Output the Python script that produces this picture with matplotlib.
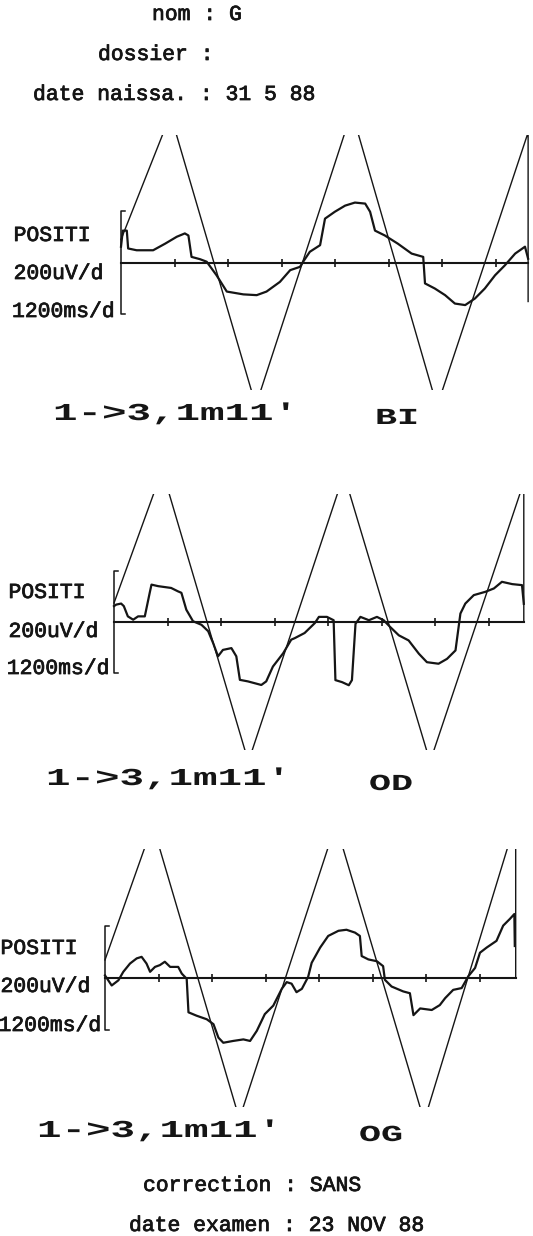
import matplotlib
matplotlib.use("Agg")
import matplotlib.pyplot as plt
import matplotlib.patheffects as pe
from matplotlib.patheffects import AbstractPathEffect
from matplotlib.transforms import Affine2D

# ---------------- data (time in s, potential in uV) ----------------
TICK_TIMES = [1.2, 2.4, 3.6, 4.8, 6.0, 7.2, 8.4]
SCALE_BRACKET_UV = 200
PANEL_NAMES = ["BI", "OD", "OG"]
END_TIMES = [9.12, 9.18, 9.20]

BI_TIME = [0.00, 0.04, 0.13, 0.16, 0.35, 0.72, 0.99, 1.25, 1.43, 1.51, 1.58, 1.77, 1.92,
           2.14, 2.37, 2.74, 3.04, 3.26, 3.56, 3.79, 4.01, 4.08, 4.23, 4.46, 4.57, 4.79,
           5.02, 5.24, 5.47, 5.58, 5.69, 5.91, 6.20, 6.51, 6.77, 6.81, 7.03, 7.26, 7.48,
           7.71, 7.93, 8.15, 8.38, 8.60, 8.83, 9.05, 9.12]
BI_EOG = [62, 125, 125, 55, 48, 48, 74, 101, 114, 106, 22, 13, 3,
          -50, -114, -125, -128, -114, -76, -30, -17, 3, 42, 68, 172, 199,
          223, 235, 231, 199, 125, 106, 74, 35, 22, -82, -102, -128, -161,
          -167, -141, -102, -50, -11, 35, 62, 15]
BI_STIM_TIME = [0.00, 1.11, 3.02, 5.17, 7.08, 9.12, 9.12]
BI_STIM = [90, 580, -561, 592, -564, 510, -153]

OD_TIME = [0.00, 0.05, 0.16, 0.22, 0.31, 0.43, 0.54, 0.69, 0.80, 0.84,
           0.99, 1.28, 1.43, 1.51, 1.62, 1.77, 1.96, 2.11, 2.22, 2.33,
           2.44, 2.63, 2.74, 2.82, 3.00, 3.30, 3.41, 3.56, 3.79, 3.97,
           4.05, 4.27, 4.50, 4.59, 4.77, 4.92, 4.96, 5.11, 5.26, 5.33,
           5.41, 5.52, 5.71, 5.89, 6.04, 6.19, 6.38, 6.60, 6.83, 7.01,
           7.27, 7.46, 7.65, 7.76, 7.87, 8.06, 8.32, 8.51, 8.69, 8.92,
           9.14, 9.18]
OD_EOG = [62, 68, 72, 62, 22, 9, 22, 22, 114, 146,
          140, 133, 120, 114, 48, 3, -11, -36, -82, -134,
          -109, -102, -134, -226, -232, -246, -232, -174, -122, -69,
          -63, -43, -4, 20, 20, 7, -227, -235, -247, -227,
          -7, 20, 7, 20, 7, -20, -52, -72, -124, -157,
          -163, -144, -111, 33, 72, 105, 118, 131, 157, 148,
          144, 71]
OD_STIM_TIME = [0.00, 1.08, 3.01, 5.15, 7.08, 9.18, 9.18]
OD_STIM = [74, 593, -546, 577, -546, 546, 0]

OG_TIME = [0.00, 0.15, 0.30, 0.41, 0.56, 0.71, 0.82, 0.93, 1.01, 1.12,
           1.23, 1.34, 1.46, 1.64, 1.72, 1.83, 1.87, 2.05, 2.28, 2.43,
           2.54, 2.65, 2.87, 3.10, 3.25, 3.40, 3.58, 3.77, 3.96, 4.07,
           4.18, 4.29, 4.41, 4.55, 4.63, 4.82, 5.00, 5.23, 5.41, 5.60,
           5.71, 5.75, 5.90, 6.09, 6.23, 6.27, 6.42, 6.68, 6.83, 6.91,
           7.06, 7.32, 7.50, 7.62, 7.80, 7.99, 8.14, 8.29, 8.40, 8.55,
           8.77, 8.92, 9.07, 9.17, 9.18]
OG_EOG = [10, -29, -9, 24, 56, 76, 82, 56, 24, 43,
          50, 63, 43, 43, 17, -3, -133, -146, -160, -179,
          -231, -251, -244, -238, -244, -205, -140, -107, -42, -16,
          -22, -55, -42, 4, 59, 118, 163, 183, 187, 176,
          163, 85, 72, 65, 46, -7, -33, -52, -59, -144,
          -118, -124, -105, -78, -46, -39, 7, 39, 98, 118,
          144, 203, 229, 248, 124]
OG_STIM_TIME = [0.00, 1.07, 3.01, 5.17, 7.15, 9.20, 9.20]
OG_STIM = [70, 593, -546, 597, -554, 608, 0]

HEADER_LINES = ["nom : G", "dossier :", "date naissa. : 31 5 88"]
FOOTER_LINES = ["correction : SANS", "date examen : 23 NOV 88"]
SIDE_LABELS = ["POSITI", "200uV/d", "1200ms/d"]
RUN_LABEL = "1->3,1m11'"

# ---------------- layout / style ----------------
W_PX, H_PX = 533, 1236
DPI = 100
INK = "#151515"
MONO = "Liberation Mono"
PX_PER_S = 44.64
XLIM = (-0.15, 9.3)
YLIM = (-500, 500)

# (axes origin x px, clip top px, clip bottom px)
PANEL_GEOM = [(121, 135, 390), (114, 494, 750), (105, 849, 1107)]
SIDE_POS = [[(13.6, 241), (13.6, 279), (12, 317)],
            [(8.5, 598), (8.5, 637), (6.8, 674)],
            [(0.5, 954), (0.5, 992), (-1.5, 1031)]]
RUN_POS = [(53, 420), (46, 785), (37, 1137)]
NAME_POS = [(375, 424), (369, 790), (359, 1141)]
HEADER_POS = [(152, 20), (98, 60), (33, 100)]
FOOTER_POS = [(143, 1191), (129, 1231)]


class HStretch(AbstractPathEffect):
    """Draw text glyphs stretched horizontally (wide plotter lettering)."""

    def __init__(self, sx, lw=0.0):
        super().__init__()
        self._sx = sx
        self._lw = lw

    def draw_path(self, renderer, gc, tpath, affine, rgbFace=None):
        gc0 = renderer.new_gc()
        gc0.copy_properties(gc)
        if self._lw > 0 and rgbFace is not None:
            gc0.set_linewidth(self._lw)
            gc0.set_foreground(rgbFace)
            gc0.set_joinstyle("round")
        renderer.draw_path(gc0, tpath, Affine2D().scale(self._sx, 1.0) + affine, rgbFace)
        gc0.restore()


TYPE_FX = [pe.withStroke(linewidth=0.55, foreground=INK)]

fig = plt.figure(figsize=(W_PX / DPI, H_PX / DPI), dpi=DPI)
fig.patch.set_facecolor("white")


def ftext(x, y, s, **kw):
    return fig.text(x / W_PX, 1 - y / H_PX, s, ha="left", va="baseline", **kw)


series = [
    (BI_TIME, BI_EOG, BI_STIM_TIME, BI_STIM),
    (OD_TIME, OD_EOG, OD_STIM_TIME, OD_STIM),
    (OG_TIME, OG_EOG, OG_STIM_TIME, OG_STIM),
]

for i, (t, v, st, sv) in enumerate(series):
    x0, top, bot = PANEL_GEOM[i]
    left_px = x0 + XLIM[0] * PX_PER_S
    width_px = (XLIM[1] - XLIM[0]) * PX_PER_S
    ax = fig.add_axes([left_px / W_PX, 1 - bot / H_PX, width_px / W_PX, (bot - top) / H_PX])
    ax.set_xlim(*XLIM)
    ax.set_ylim(*YLIM)
    ax.axis("off")
    # stimulus (triangle target) and eye-position trace
    ax.plot(st, sv, color=INK, lw=1.0, solid_joinstyle="miter")
    ax.plot(t, v, color=INK, lw=1.6, solid_joinstyle="round")
    # zero line with division ticks
    ax.plot([0, END_TIMES[i]], [0, 0], color=INK, lw=1.5)
    ax.plot(TICK_TIMES, [0] * len(TICK_TIMES), ls="none", marker="|", ms=6,
            mew=1.2, color=INK)
    # +/- 1 division bracket
    b = SCALE_BRACKET_UV
    ax.plot([0.09, 0, 0, 0.09], [b, b, -b, -b], color=INK, lw=1.1)

    for lab, (lx, ly) in zip(SIDE_LABELS, SIDE_POS[i]):
        ftext(lx, ly, lab, family=MONO, fontsize=15.4, color=INK, path_effects=TYPE_FX)
    rx, ry = RUN_POS[i]
    ftext(rx, ry, RUN_LABEL, family=MONO, fontweight="bold", fontsize=17.5,
          color=INK, path_effects=[HStretch(1.68)])
    nx, ny = NAME_POS[i]
    ftext(nx, ny, PANEL_NAMES[i], family=MONO, fontweight="bold", fontsize=16.5,
          color=INK, path_effects=[HStretch(1.6)])

for s, (x, y) in zip(HEADER_LINES, HEADER_POS):
    ftext(x, y, s, family=MONO, fontsize=15.4, color=INK, path_effects=TYPE_FX)
for s, (x, y) in zip(FOOTER_LINES, FOOTER_POS):
    ftext(x, y, s, family=MONO, fontsize=15.4, color=INK, path_effects=TYPE_FX)

fig.savefig("out.png", dpi=DPI, facecolor="white")
